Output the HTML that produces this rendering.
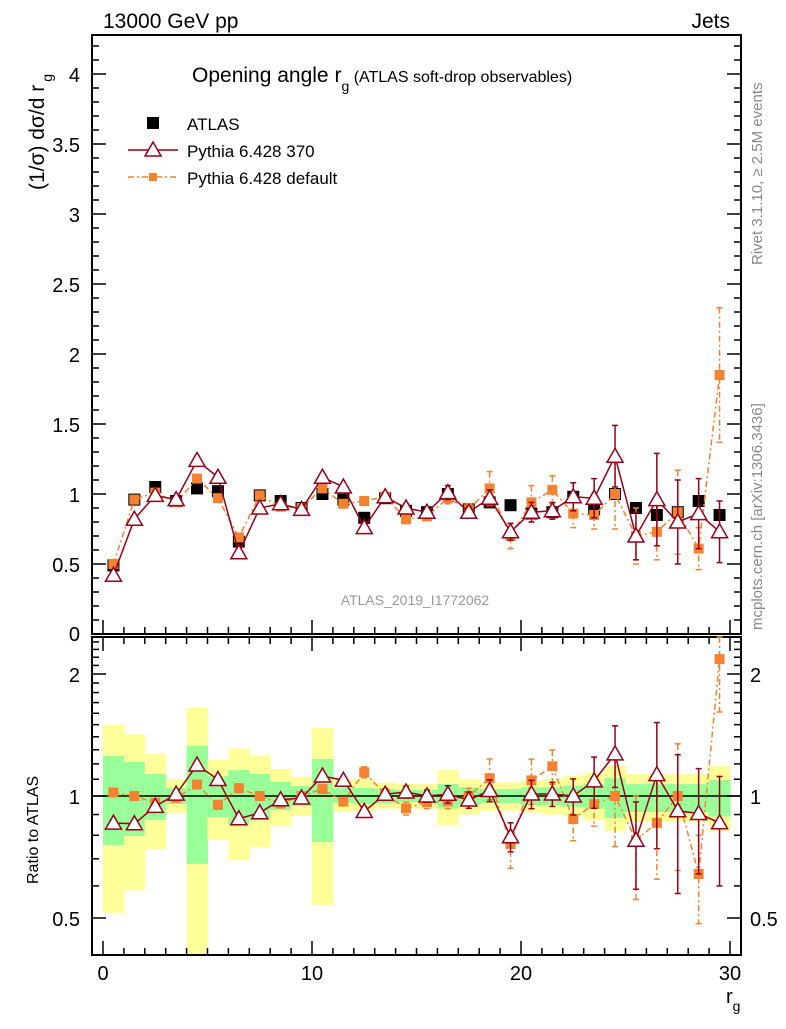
<!DOCTYPE html>
<html><head><meta charset="utf-8"><style>
body{margin:0;background:#fff;width:786px;height:1024px;overflow:hidden}
svg{font-family:"Liberation Sans",sans-serif}
</style></head><body>
<svg id="c" width="786" height="1024" xmlns="http://www.w3.org/2000/svg"></svg>
<script>
const xCenters=[0.5,1.5,2.5,3.5,4.5,5.5,6.5,7.5,8.5,9.5,10.5,11.5,12.5,13.5,14.5,15.5,16.5,17.5,18.5,19.5,20.5,21.5,22.5,23.5,24.5,25.5,26.5,27.5,28.5,29.5];
const atlasVals=[0.49,0.96,1.05,0.95,1.04,1.02,0.66,0.99,0.95,0.90,1.00,0.96,0.83,0.97,0.88,0.87,1.00,0.89,0.94,0.92,0.86,0.87,0.98,0.89,1.00,0.90,0.85,0.87,0.95,0.85];
const p370Vals=[0.42,0.82,0.99,0.96,1.24,1.12,0.58,0.90,0.93,0.89,1.12,1.05,0.76,0.98,0.90,0.87,1.01,0.87,0.97,0.73,0.87,0.88,0.98,0.97,1.27,0.70,0.96,0.80,0.86,0.73];
const p370Err=[0.01,0.01,0.01,0.01,0.02,0.02,0.01,0.01,0.01,0.01,0.02,0.02,0.02,0.03,0.03,0.03,0.05,0.04,0.06,0.06,0.07,0.06,0.1,0.14,0.22,0.17,0.33,0.3,0.25,0.22];
const defVals=[0.50,0.96,1.01,0.94,1.11,0.97,0.69,0.99,0.91,0.90,1.04,0.93,0.95,0.98,0.82,0.84,0.97,0.89,1.04,0.70,0.94,1.03,0.86,0.85,1.00,0.70,0.73,0.87,0.61,1.85];
const defErr=[0.01,0.01,0.01,0.01,0.02,0.02,0.01,0.01,0.01,0.01,0.02,0.02,0.03,0.03,0.03,0.03,0.04,0.04,0.12,0.09,0.12,0.1,0.1,0.1,0.25,0.2,0.2,0.3,0.15,0.48];
const yellowHi=[1.50,1.42,1.27,1.10,1.65,1.227,1.31,1.26,1.166,1.114,1.47,1.10,1.10,1.08,1.07,1.07,1.159,1.10,1.08,1.08,1.09,1.10,1.12,1.14,1.186,1.133,1.133,1.133,1.133,1.186];
const yellowLo=[0.515,0.586,0.74,0.908,0.40,0.779,0.695,0.748,0.843,0.893,0.538,0.918,0.918,0.93,0.93,0.93,0.848,0.90,0.92,0.92,0.91,0.90,0.89,0.87,0.82,0.863,0.863,0.863,0.863,0.82];
const greenHi=[1.255,1.213,1.133,1.046,1.33,1.12,1.159,1.133,1.083,1.058,1.234,1.046,1.046,1.04,1.035,1.035,1.07,1.05,1.04,1.04,1.05,1.05,1.06,1.07,1.108,1.07,1.07,1.07,1.07,1.095];
const greenLo=[0.757,0.797,0.873,0.956,0.68,0.887,0.848,0.873,0.923,0.945,0.77,0.961,0.956,0.96,0.965,0.965,0.93,0.95,0.96,0.96,0.95,0.95,0.94,0.93,0.882,0.913,0.913,0.913,0.913,0.89];
const mainTicks=[0.5,1,1.5,2,2.5,3,3.5,4];
const ratioTicks=[0.5,1,2];
const xTicks=[0,10,20,30];

const NS="http://www.w3.org/2000/svg",S=document.getElementById('c');
const L=92,R=741,T=35,MB=634,RT=637,RB=955;
const X=v=>103+v*(730-103)/30;
const Y=v=>MB-v*140;
const RY=v=>796-405.3*Math.log10(v);
function el(t,a,p){const e=document.createElementNS(NS,t);for(const k in a)e.setAttribute(k,a[k]);(p||S).appendChild(e);return e;}
function txt(x,y,s,a){const e=el('text',Object.assign({x:x,y:y},a||{}));e.textContent=s;return e;}

const bands=el('g',{});


xCenters.forEach((c,i)=>{
 const y1=Math.max(RT,RY(yellowHi[i])),y2=Math.min(RB,RY(yellowLo[i]));
 const yb=el('rect',{x:X(c-0.5),y:y1,width:X(1)-X(0)+0.5,height:y2-y1,fill:'#ffff99'},bands);
 
 
 const g1=RY(greenHi[i]),g2=RY(greenLo[i]);
 const gb=el('rect',{x:X(c-0.5),y:g1,width:X(1)-X(0)+0.5,height:g2-g1,fill:'#99ff99'},bands);
 
 
});
el('line',{x1:L,x2:R,y1:RY(1),y2:RY(1),stroke:'#000','stroke-width':1.5});

const f1=el('rect',{x:L,y:T,width:R-L,height:MB-T,fill:'none',stroke:'#000','stroke-width':2});

const f2=el('rect',{x:L,y:RT,width:R-L,height:RB-RT,fill:'none',stroke:'#000','stroke-width':2});


for(let v=0;v<=4.25;v+=0.1){const y=Y(v);if(y<T)continue;const maj=Math.abs(v*2-Math.round(v*2))<1e-6;const len=maj?14:7;
 el('line',{x1:L,x2:L+len,y1:y,y2:y,stroke:'#000','stroke-width':1.5});el('line',{x1:R-len,x2:R,y1:y,y2:y,stroke:'#000','stroke-width':1.5});}
mainTicks.forEach(v=>{const t=txt(80,Y(v)+8,String(v),{'font-size':20,'text-anchor':'end'});});
txt(80,641,'0',{'font-size':20,'text-anchor':'end'});
[0.5,0.6,0.7,0.8,0.9,1,1.1,1.2,1.3,1.4,1.5,1.6,1.7,1.8,1.9,2,2.1,2.2,2.3,2.4].forEach(v=>{const y=RY(v);const maj=ratioTicks.includes(v);const len=maj?14:7;
 el('line',{x1:L,x2:L+len,y1:y,y2:y,stroke:'#000','stroke-width':1.5});el('line',{x1:R-len,x2:R,y1:y,y2:y,stroke:'#000','stroke-width':1.5});});
ratioTicks.forEach(v=>{const a=txt(80,RY(v)+8,String(v),{'font-size':20,'text-anchor':'end'});
 const b=txt(750,RY(v)+8,String(v),{'font-size':20});});
for(let v=0;v<=30;v++){const x=X(v);const len=v%10===0?14:7;
 el('line',{x1:x,x2:x,y1:MB-len,y2:MB,stroke:'#000','stroke-width':1.5});el('line',{x1:x,x2:x,y1:RT,y2:RT+len,stroke:'#000','stroke-width':1.5});
 el('line',{x1:x,x2:x,y1:RB-len,y2:RB,stroke:'#000','stroke-width':1.5});}
xTicks.forEach(v=>{const t=txt(X(v),980,String(v),{'font-size':20,'text-anchor':'middle'});});

function series(vals,errs,color,dash,marker,yf,name,ratio){
 const g=el('g',{});
 
 
 const v=ratio?vals.map((d,i)=>d/atlasVals[i]):vals;
 const e=errs?(ratio?errs.map((d,i)=>d/atlasVals[i]):errs):null;
 if(color!=='#000'){el('polyline',{points:xCenters.map((c,i)=>X(c)+','+yf(v[i])).join(' '),fill:'none',stroke:color,'stroke-width':1.5,'stroke-dasharray':dash||'none'},g);}
 xCenters.forEach((c,i)=>{const x=X(c);
  if(e){const y1=Math.max(ratio?RT:T,yf(v[i]+e[i])),y2=yf(Math.max(0.41,v[i]-e[i]));
   el('line',{x1:x,x2:x,y1:y1,y2:y2,stroke:color,'stroke-width':1.5,'stroke-dasharray':dash||'none'},g);
   el('line',{x1:x-3,x2:x+3,y1:y1,y2:y1,stroke:color,'stroke-width':1.5},g);el('line',{x1:x-3,x2:x+3,y1:y2,y2:y2,stroke:color,'stroke-width':1.5},g);}
  const y=yf(v[i]);
  let m;
  if(marker==='sq')m=el('rect',{x:x-6,y:y-6,width:12,height:12,fill:color},g);
  else if(marker==='sqs')m=el('rect',{x:x-5,y:y-5,width:10,height:10,fill:color},g);
  else m=el('polygon',{points:`${x},${y-8} ${x-8},${y+6} ${x+8},${y+6}`,fill:'#fff',stroke:color,'stroke-width':1.5},g);
  
  
 });
}
series(atlasVals,null,'#000',null,'sq',Y,'atlas-series',false);
series(defVals,defErr,'#f58231','6,3,2,3','sqs',Y,'pythia-default-series',false);
series(p370Vals,p370Err,'#990019',null,'tri',Y,'pythia-370-series',false);
series(defVals,defErr,'#f58231','6,3,2,3','sqs',RY,'pythia-default-ratio',true);
series(p370Vals,p370Err,'#990019',null,'tri',RY,'pythia-370-ratio',true);
</script>
<svg width="786" height="1024" style="position:absolute;left:0;top:0" xmlns="http://www.w3.org/2000/svg" font-family="Liberation Sans, sans-serif">
<text x="103" y="28" font-size="21">13000 GeV pp</text>
<text x="730" y="28" font-size="21" text-anchor="end">Jets</text>
<text x="192" y="82" font-size="21">Opening angle r<tspan dy="9" font-size="14">g</tspan><tspan dy="-9" font-size="16"> (ATLAS soft-drop observables)</tspan></text>
<text transform="translate(44,190) rotate(-90)" font-size="21">(1/σ) dσ/d r<tspan dy="8" dx="3" font-size="14">g</tspan></text>
<text transform="translate(38,884) rotate(-90)" font-size="16">Ratio to ATLAS</text>
<text x="726" y="1003" font-size="20">r<tspan dy="8" font-size="14">g</tspan></text>
<text x="415" y="605" font-size="14" fill="#999" text-anchor="middle">ATLAS_2019_I1772062</text>
<text transform="translate(762,265) rotate(-90)" font-size="15" fill="#888">Rivet 3.1.10, ≥ 2.5M events</text>
<text transform="translate(762,630) rotate(-90)" font-size="15" fill="#888">mcplots.cern.ch [arXiv:1306.3436]</text>
<g>
<rect x="147" y="117" width="12" height="12" fill="#000"/>
<text x="187" y="130" font-size="17">ATLAS</text>
<line x1="128" x2="178" y1="150" y2="150" stroke="#990019" stroke-width="1.5"/>
<polygon points="153,142 145,156 161,156" fill="#fff" stroke="#990019" stroke-width="1.5"/>
<text x="187" y="157" font-size="17">Pythia 6.428 370</text>
<line x1="128" x2="178" y1="177" y2="177" stroke="#f58231" stroke-width="1.5" stroke-dasharray="6,3,2,3"/>
<rect x="149" y="173" width="8" height="8" fill="#f58231"/>
<text x="187" y="184" font-size="17">Pythia 6.428 default</text>
</g>
</svg>
</body></html>
